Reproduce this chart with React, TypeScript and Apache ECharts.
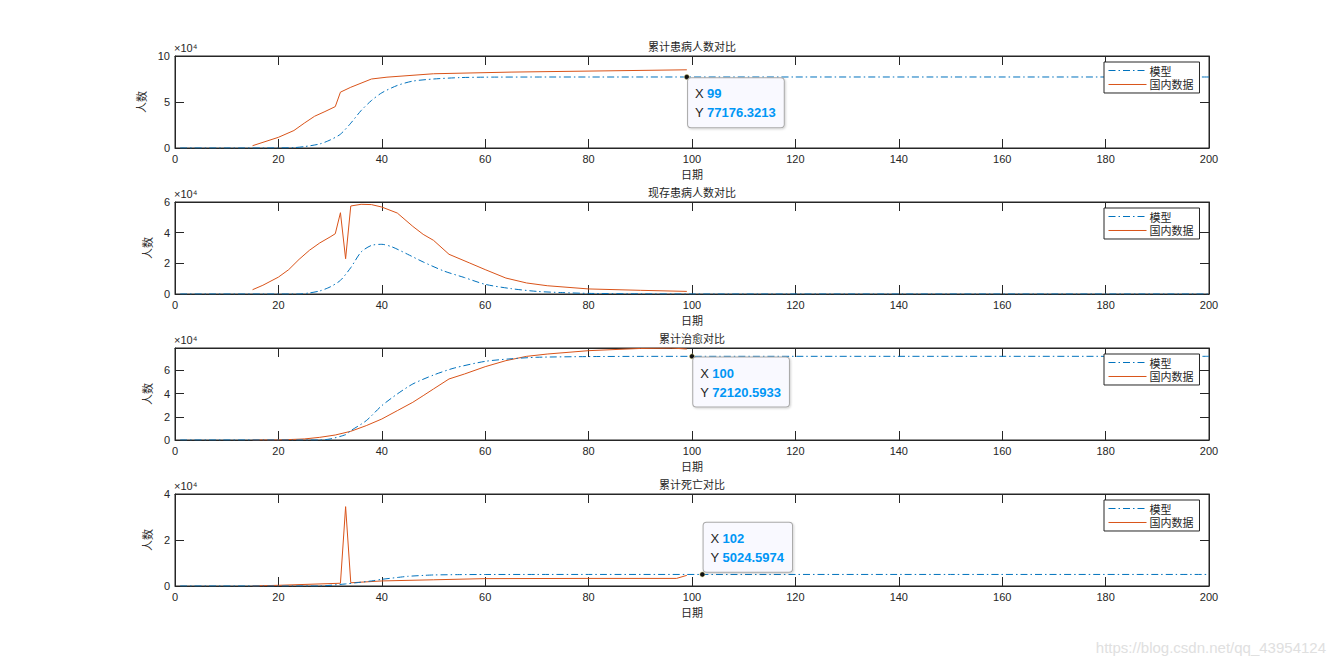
import React, { useEffect, useRef } from "react";
import * as echarts from "echarts";

// ---------- data ----------
const titles = ["累计患病人数对比", "现存患病人数对比", "累计治愈对比", "累计死亡对比"];
const seriesNames = ["模型", "国内数据"];
const xTickMax = 200;
const yMaxes = [100000, 60000, 79300, 40000];
const yIntervals = [50000, 20000, 20000, 20000];

// plot 1: cumulative infected
const cumModelDay = [1, 10, 20, 23, 25, 28, 30, 32, 34, 36, 38, 40, 43, 46, 50, 55, 60, 70, 80, 99, 120, 150, 200];
const cumModelVal = [0, 0, 100, 400, 1500, 4400, 8700, 15000, 27000, 40700, 51600, 60000, 68000, 72700, 75000, 76500, 77000, 77150, 77170, 77176.3213, 77180, 77182, 77183];
const cumDataDay = [15, 20, 23, 25, 27, 29, 31, 32, 34, 38, 41, 50, 65, 99];
const cumDataVal = [2500, 11600, 19000, 27000, 34500, 39600, 45000, 60700, 66000, 75000, 77000, 80700, 82500, 85000];

// plot 2: current infected
const curModelDay = [1, 24, 26, 28, 30, 32, 34, 36, 38, 40, 42, 45, 48, 52, 56, 60, 65, 70, 75, 80, 90, 100, 200];
const curModelVal = [0, 0, 700, 2000, 4600, 8900, 17200, 27400, 31700, 32400, 30700, 25900, 20900, 15000, 10700, 6300, 3500, 1700, 900, 400, 100, 0, 0];
const curDataDay = [15, 17, 20, 22, 24, 26, 28, 30, 31, 32, 33, 34, 36, 38, 40, 43, 46, 48, 50, 53, 57, 60, 64, 68, 72, 80, 90, 99];
const curDataVal = [2800, 5700, 11000, 15900, 22600, 28500, 33300, 37200, 39300, 53000, 23000, 57400, 58500, 58300, 56700, 52800, 44100, 38900, 35000, 25900, 20200, 15900, 10400, 7200, 5400, 3300, 2400, 1700];

// plot 3: cumulative cured
const cureModelDay = [1, 28, 30, 33, 34, 37, 40, 43, 46, 50, 54, 60, 65, 70, 80, 90, 100, 120, 150, 200];
const cureModelVal = [0, 0, 900, 4600, 8000, 16700, 29600, 39700, 48300, 56000, 62000, 67800, 70000, 71300, 71900, 72080, 72120.5933, 72125, 72127, 72128];
const cureDataDay = [15, 20, 25, 28, 31, 34, 37, 40, 43, 46, 48, 50, 53, 56, 60, 64, 68, 72, 80, 90, 96, 99];
const cureDataVal = [0, 0, 900, 2300, 4300, 7500, 12400, 18100, 25300, 32500, 38200, 44000, 52600, 56900, 63200, 68400, 72100, 74100, 77000, 78900, 79300, 78400];

// plot 4: cumulative deaths
const deathModelDay = [1, 28, 30, 33, 35, 38, 40, 43, 45, 48, 50, 55, 60, 70, 80, 102, 150, 200];
const deathModelVal = [0, 0, 300, 900, 1400, 2200, 2900, 3700, 4200, 4600, 4800, 4950, 5000, 5020, 5023, 5024.5974, 5025, 5025];
const deathDataDay = [15, 20, 32, 33, 34, 40, 50, 60, 80, 97, 99];
const deathDataVal = [0, 300, 1200, 34500, 1400, 2200, 2700, 3200, 3300, 3300, 4630];

// data tips: plot index, day, value
const tipPlots = [0, 2, 3];
const tipDays = [99, 100, 102];
const tipVals = [77176.3213, 72120.5933, 5024.5974];

const zip = (xs: number[], ys: number[]) => xs.map((x, i) => [x, ys[i]]);

const modelSets = [
  zip(cumModelDay, cumModelVal),
  zip(curModelDay, curModelVal),
  zip(cureModelDay, cureModelVal),
  zip(deathModelDay, deathModelVal),
];
const dataSets = [
  zip(cumDataDay, cumDataVal),
  zip(curDataDay, curDataVal),
  zip(cureDataDay, cureDataVal),
  zip(deathDataDay, deathDataVal),
];

const BLUE = "#0072BD";
const ORANGE = "#D95319";
const AXIS = "#262626";
const FONT = "'Liberation Sans', Arial, sans-serif";
const CJK = "'Noto Sans CJK SC', sans-serif";

const gridTops = [56, 202, 348, 494];
const gridLeft = 175;
const gridWidth = 1034;
const gridHeight = 92;

export default function App() {
  const ref = useRef<HTMLDivElement>(null);
  useEffect(() => {
    if (!ref.current) return;
    const chart = echarts.init(ref.current, undefined, { renderer: "svg" });

    const grid: any[] = [];
    const xAxis: any[] = [];
    const yAxis: any[] = [];
    const title: any[] = [];
    const legend: any[] = [];
    const series: any[] = [];
    const graphic: any[] = [];

    for (let i = 0; i < 4; i++) {
      grid.push({
        left: gridLeft,
        top: gridTops[i],
        width: gridWidth,
        height: gridHeight,
        show: true,
        borderColor: AXIS,
        borderWidth: 1,
        backgroundColor: "#fff",
      });
      xAxis.push({
        type: "value",
        gridIndex: i,
        min: 0,
        max: xTickMax,
        interval: 20,
        position: "bottom",
        name: "日期",
        nameLocation: "middle",
        nameGap: 20,
        nameTextStyle: { color: AXIS, fontFamily: CJK, fontSize: 11 },
        axisLine: { show: true, onZero: false, lineStyle: { color: AXIS, width: 1 } },
        axisTick: { show: true, inside: true, length: 9, lineStyle: { color: AXIS } },
        axisLabel: { color: AXIS, fontFamily: FONT, fontSize: 11, margin: 5 },
        splitLine: { show: false },
      });
      xAxis.push({
        type: "value",
        gridIndex: i,
        min: 0,
        max: xTickMax,
        interval: 20,
        position: "top",
        axisLine: { show: true, onZero: false, lineStyle: { color: AXIS, width: 1 } },
        axisTick: { show: true, inside: true, length: 9, lineStyle: { color: AXIS } },
        axisLabel: { show: false },
        splitLine: { show: false },
      });
      yAxis.push({
        type: "value",
        gridIndex: i,
        min: 0,
        max: yMaxes[i],
        interval: yIntervals[i],
        position: "left",
        name: "人数",
        nameLocation: "middle",
        nameGap: 14,
        nameTextStyle: { color: AXIS, fontFamily: CJK, fontSize: 11 },
        axisLine: { show: true, onZero: false, lineStyle: { color: AXIS, width: 1 } },
        axisTick: { show: true, inside: true, length: 9, lineStyle: { color: AXIS } },
        axisLabel: {
          color: AXIS,
          fontFamily: FONT,
          fontSize: 11,
          margin: 5,
          showMaxLabel: yMaxes[i] % yIntervals[i] === 0,
          formatter: (v: number) => String(Math.round(v / 1000) / 10),
        },
        splitLine: { show: false },
      });
      yAxis.push({
        type: "value",
        gridIndex: i,
        min: 0,
        max: yMaxes[i],
        interval: yIntervals[i],
        position: "right",
        axisLine: { show: true, onZero: false, lineStyle: { color: AXIS, width: 1 } },
        axisTick: { show: true, inside: true, length: 9, lineStyle: { color: AXIS } },
        axisLabel: { show: false },
        splitLine: { show: false },
      });
      title.push({
        text: titles[i],
        left: gridLeft + gridWidth / 2,
        textAlign: "center",
        top: gridTops[i] - 16,
        padding: 0,
        textStyle: { color: "#262626", fontFamily: CJK, fontSize: 11, fontWeight: "normal" },
      });
      legend.push({
        data: seriesNames,
        orient: "vertical",
        left: 1104,
        top: gridTops[i] + 6,
        width: 93,
        padding: [3, 6, 3, 4],
        itemGap: 3,
        itemWidth: 38,
        itemHeight: 12,
        backgroundColor: "#fff",
        borderColor: AXIS,
        borderWidth: 1,
        borderRadius: 0,
        selectedMode: false,
        itemStyle: { opacity: 0, borderWidth: 0 },
        lineStyle: { width: 1 },
        textStyle: { color: AXIS, fontFamily: CJK, fontSize: 11, padding: [0, 0, 0, -2] },
      });
      graphic.push({
        type: "text",
        left: gridLeft - 1,
        top: gridTops[i] - 14,
        style: { text: "×10⁴", fill: AXIS, font: `11px ${FONT}` },
      });

      const tipIdx = tipPlots.indexOf(i);
      const modelSeries: any = {
        name: seriesNames[0],
        type: "line",
        xAxisIndex: i * 2,
        yAxisIndex: i * 2,
        data: modelSets[i],
        symbol: "none",
        smooth: 0.25,
        lineStyle: { color: BLUE, width: 1, type: [7, 3, 1.5, 3] },
        itemStyle: { color: BLUE },
        z: 3,
      };
      if (tipIdx >= 0) {
        const above = i === 3;
        modelSeries.markPoint = {
          symbol: "circle",
          symbolSize: 5,
          itemStyle: { color: "#111", borderColor: "#cfc86a", borderWidth: 0.5, opacity: 1 },
          data: [
            {
              coord: [tipDays[tipIdx], tipVals[tipIdx]],
              label: {
                show: true,
                position: above ? [4, 0] : [4, 4],
                verticalAlign: above ? "bottom" : "top",
                align: "left",
                formatter: `{k|X} {v|${tipDays[tipIdx]}}\n{k|Y} {v|${tipVals[tipIdx]}}`,
                backgroundColor: "#F9F9FF",
                borderColor: "#A8A8A8",
                borderWidth: 1,
                borderRadius: 3,
                padding: [6, 8, 5, 7],
                shadowColor: "rgba(0,0,0,0.18)",
                shadowBlur: 2,
                shadowOffsetX: 1,
                shadowOffsetY: 1,
                rich: {
                  k: { color: "#262626", fontFamily: FONT, fontSize: 13, lineHeight: 19 },
                  v: { color: "#0096F5", fontFamily: FONT, fontSize: 13, fontWeight: "bold", lineHeight: 19 },
                },
              },
            },
          ],
        };
      }
      series.push(modelSeries);
      series.push({
        name: seriesNames[1],
        type: "line",
        xAxisIndex: i * 2,
        yAxisIndex: i * 2,
        data: dataSets[i],
        symbol: "none",
        lineStyle: { color: ORANGE, width: 1 },
        itemStyle: { color: ORANGE },
        z: 2,
      });
    }

    graphic.push({
      type: "text",
      right: 10,
      top: 640,
      style: { text: "https://blog.csdn.net/qq_43954124", fill: "#e0e0e0", font: `15px ${FONT}` },
    });

    chart.setOption({
      animation: false,
      backgroundColor: "#fff",
      grid,
      xAxis,
      yAxis,
      title,
      legend,
      series,
      graphic,
    });
    return () => chart.dispose();
  }, []);

  return (
    <div
      ref={ref}
      style={{ position: "fixed", left: 0, top: 0, width: 1336, height: 668, background: "#fff" }}
    />
  );
}
